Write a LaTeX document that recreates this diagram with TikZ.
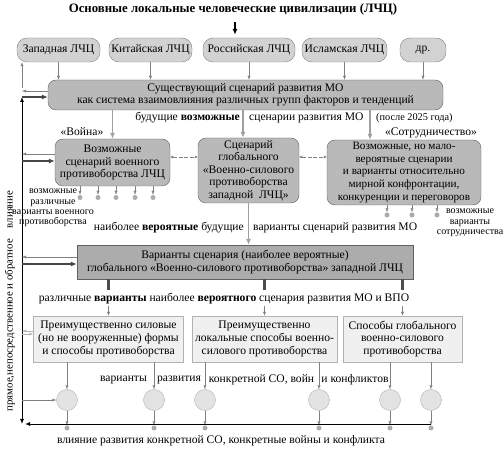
\documentclass[tikz,border=0pt]{standalone}
\usepackage{fontspec}
\setmainfont{Liberation Serif}
\usetikzlibrary{arrows.meta}

\begin{document}
\begin{tikzpicture}[x=1pt,y=-1pt,every node/.style={font=\fontsize{11.6}{12.6}\selectfont,inner sep=0pt,align=center},
lchc/.style={draw=gray,fill=gray!35,rounded corners=10pt,minimum height=24pt},
scen/.style={draw=gray!75!black,fill=gray!55,rounded corners=8pt},
bigbox/.style={draw=gray!75!black,fill=gray!65},
wayb/.style={draw=gray!60,fill=gray!12,minimum height=46pt},
circ/.style={circle,draw=gray!60,fill=gray!22,minimum size=21pt},
dot/.style={circle,fill=gray!65,minimum size=5pt},
smalltxt/.style={font=\fontsize{10}{10.3}\selectfont},
ga/.style={draw=gray,-{Latex[length=4pt,width=3pt]}},
fat/.style={draw=gray!75,line width=1.6pt,-{Latex[length=6pt,width=5pt]}},
fatin/.style={draw=gray!55!black,line width=1.8pt,-{Latex[length=6pt,width=5pt]}},
dbl/.style={draw=gray,dash pattern=on 4pt off 1.5pt,{Latex[length=3pt,width=3pt]}-{Latex[length=3pt,width=3pt]}},
stub/.style={draw=gray!60!black,line width=3pt}]
\useasboundingbox (0,0) rectangle (504,449);
\node (title) at (233,9) {\bfseries\fontsize{12.8}{14}\selectfont Основные локальные человеческие цивилизации (ЛЧЦ)};
\node[lchc,minimum width=83pt] (west) at (58.5,50) {Западная ЛЧЦ}; \node[lchc,minimum width=83pt] (chin) at (150.5,50) {Китайская ЛЧЦ};
\node[lchc,minimum width=92pt] (rus) at (249,50) {Российская ЛЧЦ}; \node[lchc,minimum width=85pt] (isl) at (344.5,50) {Исламская ЛЧЦ};
\node[lchc,minimum width=46pt] (dr) at (423,50) {др.};
\draw[draw=black,line width=1.2pt,-{Latex[length=6pt,width=5pt]},shorten <=7pt,shorten >=3pt] (title.south -| 235,0) -- (rus.north -| 235,0);
\node[scen,minimum width=395pt,minimum height=30pt,font=\fontsize{11.6}{12}\selectfont] (cur) at (245.5,95) {Существующий сценарий развития МО\\как система взаимовлияния различных групп факторов и тенденций};
\foreach \n in {west,chin,rus,isl,dr} \draw[ga] (\n.south) -- (\n.south |- cur.north);
% three future scenarios
\node[anchor=east] (fut1) at (240,118) {будущие \textbf{возможные}}; \node[anchor=west] (fut2) at (249,118) {сценарии развития МО};
\node[anchor=west,font=\fontsize{10.3}{11}\selectfont] (after) at (376,118) {(после 2025 года)};
\node (war1) at (82,132) {«Война»}; \node (coop1) at (431,133) {«Сотрудничество»};
\node[scen,minimum width=115pt,minimum height=47pt] (war) at (112.5,162.5) {Возможные\\сценарий военного\\противоборства ЛЧЦ};
\node[scen,minimum width=101pt,minimum height=65pt] (glob) at (248.5,170.5) {Сценарий\\глобального\\«Военно-силового\\противоборства\\западной\ \ ЛЧЦ»};
\node[scen,minimum width=154pt,minimum height=65pt,font=\fontsize{11.2}{12.6}\selectfont] (coop) at (404,172.5) {Возможные, но мало-\\вероятные сценарии\\и варианты относительно\\мирной конфронтации,\\конкуренции и переговоров};
\draw[fat] (cur.south -| war.north) -- (war.north); \draw[fat] (cur.south -| 243,0) -- (glob.north -| 243,0); \draw[fat] (cur.south -| 370,0) -- (coop.north -| 370,0);
\draw[dbl] (war.east |- 0,157) -- (glob.west |- 0,157); \draw[dbl] (glob.east |- 0,157) -- (coop.west |- 0,157);
\foreach \x [count=\i] in {80,98,116,135,153} {\node[dot] (wd\i) at (\x,197.5) {}; \draw[ga] (war.south -| wd\i) -- (wd\i.north);}
\foreach \x [count=\i] in {387,412,437} {\node[dot] (cd\i) at (\x,215) {}; \draw[ga] (coop.south -| cd\i) -- (cd\i.north);}
\node[smalltxt] (warv) at (53,208) {возможные\\различные\\варианты военного\\противоборства};
\node[smalltxt] (coopv) at (470,223) {возможные\\варианты\\сотрудничества};
% most probable
\node[anchor=east] (prob1) at (244,228) {наиболее \textbf{вероятные} будущие}; \node[anchor=west] (prob2) at (253,228) {варианты сценарий развития МО};
\node[bigbox,minimum width=336pt,minimum height=34pt,font=\fontsize{11.6}{12.5}\selectfont] (big) at (245,262) {Варианты сценария (наиболее вероятные)\\глобального «Военно-силового противоборства» западной ЛЧЦ};
\draw[fat] (glob.south) -- (glob.south |- big.north);
\node (var) at (224,299) {различные \textbf{варианты} наиболее \textbf{вероятного} сценария развития МО и ВПО};
\node[wayb,minimum width=150pt] (boxa) at (108.5,339) {Преимущественно силовые\\(но не вооруженные) формы\\и способы противоборства};
\node[wayb,minimum width=145pt] (boxb) at (264.5,339) {Преимущественно\\локальные способы военно-\\силового противоборства};
\node[wayb,minimum width=119pt] (boxc) at (402.5,339) {Способы глобального\\военно-силового\\противоборства};
\foreach \b in {boxa,boxb,boxc} {\draw[stub] (big.south -| \b.north) -- ++(0,11); \draw[ga] ([yshift=10pt]\b.north) -- (\b.north);}
% concrete variants
\foreach \x [count=\i] in {67,154,205,319,390,431} {\node[circ] (c\i) at (\x,400) {}; \node[dot] (d\i) at (\x,428) {}; \draw[ga] (c\i) -- (d\i.north);}
\draw[ga] (boxa.south -| c1) -- (c1); \draw[ga] (boxa.south -| c2) -- (c2); \draw[ga] (boxb.south -| c3) -- (c3);
\draw[ga] (boxb.south -| c4) -- (c4); \draw[ga] (boxc.south -| c5) -- (c5); \draw[ga] (boxc.south -| c6) -- (c6);
\node (r1) at (123.5,380) {варианты}; \node (r2) at (179,380) {развития}; \node (r3) at (261.5,380) {конкретной СО, войн}; \node (r4) at (355,380) {и конфликтов};
\node (bot) at (221,441) {влияние развития конкретной СО, конкретные войны и конфликта};
% influence line
\coordinate (lt) at (22,97); \coordinate (lb) at (22,424);
\draw[line width=0.9pt,{Latex[length=5pt,width=4pt]}-{Latex[length=5pt,width=4pt]}] (lb) -- (lt);
\draw[line width=0.9pt,-{Latex[length=5pt,width=4pt]}] (c6 |- lb) -- ([xshift=3pt]lb);
\node[rotate=90,font=\fontsize{10.8}{12}\selectfont] (infl) at (10,301) {прямое,непосредственное и обратное\quad влияние};
\draw[ga,{Latex[length=4pt,width=3pt]}-] (lt |- west.south) -- ([yshift=9pt]lt);
\draw[ga] (cur.west |- 0,91) -- (lt |- 0,91); \draw[fatin] (lt) -- (cur.west |- lt);
\draw[ga] (war.west |- 0,154) -- (lt |- 0,154); \draw[fatin] (lt |- 0,161) -- (war.west |- 0,161);
\draw[ga] (big.west |- 0,257) -- (lt |- 0,257); \draw[fatin] (lt |- 0,264) -- (big.west |- 0,264);
\draw[ga,draw=gray!60] (boxa.west |- 0,331) -- (lt |- 0,331); \draw[ga,draw=gray!60] (lt |- 0,334) -- (boxa.west |- 0,334);
\draw[ga] (lt |- c1) -- (c1);
\end{tikzpicture}
\end{document}
